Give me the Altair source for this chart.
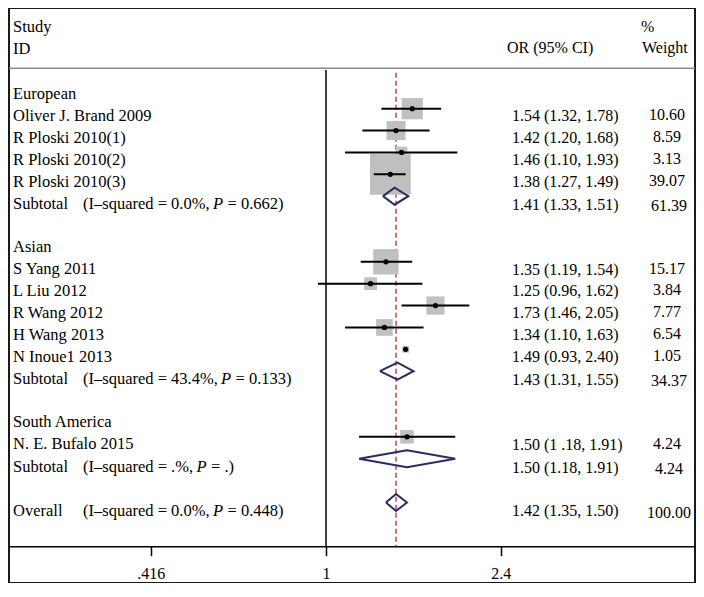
import math
import altair as alt
import pandas as pd

# ---------------- data ----------------
rows = [1, 2, 3, 4, 8, 9, 10, 11, 12, 16]
studies = ["Oliver J. Brand 2009", "R Ploski 2010(1)", "R Ploski 2010(2)", "R Ploski 2010(3)",
           "S Yang 2011", "L Liu 2012", "R Wang 2012", "H Wang 2013", "N Inoue1 2013",
           "N. E. Bufalo 2015"]
est = [1.54, 1.42, 1.46, 1.38, 1.35, 1.25, 1.73, 1.34, 1.49, 1.50]
lo = [1.32, 1.20, 1.10, 1.27, 1.19, 0.96, 1.46, 1.10, 0.93, 1.18]
hi = [1.78, 1.68, 1.93, 1.49, 1.54, 1.62, 2.05, 1.63, 2.40, 1.91]
weight = [10.60, 8.59, 3.13, 39.07, 15.17, 3.84, 7.77, 6.54, 1.05, 4.24]
or_text = ["1.54 (1.32, 1.78)", "1.42 (1.20, 1.68)", "1.46 (1.10, 1.93)", "1.38 (1.27, 1.49)",
           "1.35 (1.19, 1.54)", "1.25 (0.96, 1.62)", "1.73 (1.46, 2.05)", "1.34 (1.10, 1.63)",
           "1.49 (0.93, 2.40)", "1.50 (1 .18, 1.91)"]
ci_drawn = [True, True, True, True, True, True, True, True, False, True]
weight_text = ["10.60", "8.59", "3.13", "39.07", "15.17", "3.84", "7.77", "6.54", "1.05", "4.24"]

group_rows = [0, 7, 15]
group_names = ["European", "Asian", "South America"]

sum_rows = [5, 13, 17, 19]
sum_head = ["Subtotal", "Subtotal", "Subtotal", "Overall"]
sum_est = [1.41, 1.43, 1.50, 1.42]
sum_lo = [1.33, 1.31, 1.18, 1.35]
sum_hi = [1.51, 1.55, 1.91, 1.50]
sum_i2 = ["0.0%", "43.4%", ".%", "0.0%"]
sum_p = ["0.662", "0.133", ".", "0.448"]
sum_or_text = ["1.41 (1.33, 1.51)", "1.43 (1.31, 1.55)", "1.50 (1.18, 1.91)", "1.42 (1.35, 1.50)"]
sum_weight_text = ["61.39", "34.37", "4.24", "100.00"]

overall_est = 1.42
tick_values = [0.416, 1, 2.4]

# ---------------- layout ----------------
W, H = 686, 575
SY = H / 594.0


def Y(a):
    return (a - 1) * SY


X_ONE = 317.0          # pixel of OR = 1
PX_PER_LN = 199.7      # pixels per unit of ln(OR)
ROW0 = Y(82.4)         # pixel of row 0
ROW_H = 22.6 * SY      # pixels per row
FONT = "Liberation Serif"
FS = 16
FS_L = 16.5

xdom = [math.exp(-X_ONE / PX_PER_LN), math.exp((W - X_ONE) / PX_PER_LN)]
ydom = [-ROW0 / ROW_H, (H - ROW0) / ROW_H]
xs = alt.Scale(type="log", domain=xdom, nice=False, zero=False)
ys = alt.Scale(domain=ydom, reverse=True, nice=False, zero=False)
DH = 8.8 * SY / ROW_H  # diamond half height in rows
AXIS_Y = Y(557)

LABEL_X = 4
OR_X = 503
WEIGHT_X = 658
TEXT_DY = 12.3

PAREN_X = 74
p_x = [204, 212, 187.5, 204]

studies_df = pd.DataFrame(dict(row=rows, label=studies, est=est, lo=lo, hi=hi, w=weight,
                               ortext=or_text, ci=ci_drawn, wtext=weight_text))
groups_df = pd.DataFrame(dict(row=group_rows, label=group_names))
sums_df = pd.DataFrame(dict(row=sum_rows, head=sum_head, est=sum_est, lo=sum_lo, hi=sum_hi,
                            part1=[f"(I\u2013squared = {v}," for v in sum_i2],
                            rest=[f"= {v})" for v in sum_p],
                            px=p_x, ortext=sum_or_text, wtext=sum_weight_text))

dia = []
for i, r in enumerate(sum_rows):
    pts = [(sum_lo[i], r), (sum_est[i], r - DH), (sum_hi[i], r), (sum_est[i], r + DH), (sum_lo[i], r)]
    for k, (xv, yv) in enumerate(pts):
        dia.append(dict(g=i, k=k, x=xv, y=yv))
dia_df = pd.DataFrame(dia)

txt = dict(font=FONT, color="black", baseline="alphabetic")

hdr_df = pd.DataFrame(dict(
    t=["Study", "ID", "OR (95% CI)", "%", "Weight"],
    x=[LABEL_X, LABEL_X, 498, 632, 633],
    y=[Y(26), Y(48.3), Y(48), Y(25.5), Y(48)],
    fs=[FS_L, FS_L, FS, FS, FS]))
header = alt.Chart(hdr_df).mark_text(align="left", **txt).encode(
    x=alt.X("x:Q", scale=None), y=alt.Y("y:Q", scale=None), text="t:N",
    size=alt.Size("fs:Q", scale=None))

hline = alt.Chart(pd.DataFrame({"a": [0]})).mark_rule(color="#8a8a8a", strokeWidth=1.5).encode(
    x=alt.value(0), x2=alt.value(W), y=alt.value(Y(63.3)))

null_line = alt.Chart(pd.DataFrame({"v": [1]})).mark_rule(color="black", strokeWidth=1.5).encode(
    x=alt.X("v:Q", scale=xs,
            axis=alt.Axis(values=tick_values, title=None, grid=False, offset=AXIS_Y - H,
                          domainColor="black", domainWidth=1.5, tickColor="black",
                          tickWidth=1.5, tickSize=9.5, labelFont=FONT, labelFontSize=FS,
                          labelColor="black", labelPadding=10, labelFlush=False,
                          labelExpr="datum.value < 1 ? slice(format(datum.value, '.3f'), 1) : format(datum.value, '~g')")),
    y=alt.value(Y(65)), y2=alt.value(AXIS_Y))

dash_line = alt.Chart(pd.DataFrame({"v": [overall_est]})).mark_rule(
    color="#a33345", strokeWidth=1.3, strokeDash=[5, 3]).encode(
    x=alt.X("v:Q", scale=xs), y=alt.value(Y(68)), y2=alt.value(AXIS_Y))

squares = alt.Chart(studies_df).mark_square(color="#c0c0c0", opacity=1, strokeWidth=0).encode(
    x=alt.X("est:Q", scale=xs), y=alt.Y("row:Q", scale=ys, axis=None),
    size=alt.Size("w:Q", scale=alt.Scale(domain=[0, 100], range=[0, 4250]), legend=None))

ci = alt.Chart(studies_df).transform_filter("datum.ci").mark_rule(color="black", strokeWidth=2).encode(
    x=alt.X("lo:Q", scale=xs), x2="hi:Q", y=alt.Y("row:Q", scale=ys))

dots = alt.Chart(studies_df).mark_circle(color="black", opacity=1, size=28).encode(
    x=alt.X("est:Q", scale=xs), y=alt.Y("row:Q", scale=ys))

diamonds = alt.Chart(dia_df).mark_line(color="#2d2a62", strokeWidth=2).encode(
    x=alt.X("x:Q", scale=xs), y=alt.Y("y:Q", scale=ys), detail="g:N", order="k:Q")

study_lbl = alt.Chart(studies_df).mark_text(align="left", dy=TEXT_DY, fontSize=FS_L, **txt).encode(
    x=alt.value(LABEL_X), y=alt.Y("row:Q", scale=ys), text="label:N")
study_or = alt.Chart(studies_df).mark_text(align="left", dy=TEXT_DY + 0.5, fontSize=FS, **txt).encode(
    x=alt.value(OR_X), y=alt.Y("row:Q", scale=ys), text="ortext:N")
study_w = alt.Chart(studies_df).mark_text(align="center", dy=TEXT_DY - 0.5, fontSize=FS, **txt).encode(
    x=alt.value(WEIGHT_X), y=alt.Y("row:Q", scale=ys), text="wtext:N")

group_lbl = alt.Chart(groups_df).mark_text(align="left", dy=TEXT_DY, fontSize=FS_L, **txt).encode(
    x=alt.value(LABEL_X), y=alt.Y("row:Q", scale=ys), text="label:N")

sum_head_t = alt.Chart(sums_df).mark_text(align="left", dy=TEXT_DY + 1, fontSize=FS_L, **txt).encode(
    x=alt.value(LABEL_X), y=alt.Y("row:Q", scale=ys), text="head:N")
sum_p1 = alt.Chart(sums_df).mark_text(align="left", dy=TEXT_DY + 1, fontSize=FS_L, **txt).encode(
    x=alt.value(PAREN_X), y=alt.Y("row:Q", scale=ys), text="part1:N")
sum_P = alt.Chart(sums_df).mark_text(align="left", dy=TEXT_DY + 1, fontSize=FS_L, fontStyle="italic", **txt).encode(
    x=alt.X("px:Q", scale=None), y=alt.Y("row:Q", scale=ys), text=alt.value("P"))
sum_rest = alt.Chart(sums_df).mark_text(align="left", dy=TEXT_DY + 1, dx=14.5, fontSize=FS_L, **txt).encode(
    x=alt.X("px:Q", scale=None), y=alt.Y("row:Q", scale=ys), text="rest:N")
sum_or = alt.Chart(sums_df).mark_text(align="left", dy=TEXT_DY + 1.5, fontSize=FS, **txt).encode(
    x=alt.value(OR_X), y=alt.Y("row:Q", scale=ys), text="ortext:N")
sum_w = alt.Chart(sums_df).mark_text(align="center", dy=TEXT_DY + 3, fontSize=FS, **txt).encode(
    x=alt.value(WEIGHT_X + 2), y=alt.Y("row:Q", scale=ys), text="wtext:N")

chart = alt.layer(
    null_line, hline, dash_line, squares, ci, dots, diamonds,
    study_lbl, study_or, study_w, group_lbl,
    sum_head_t, sum_p1, sum_P, sum_rest, sum_or, sum_w, header,
).properties(width=W, height=H, padding=0, background="white").configure_view(
    stroke="#1a1a1a", strokeWidth=2)

chart.save("out.html", embed_options={"renderer": "svg", "actions": False})
